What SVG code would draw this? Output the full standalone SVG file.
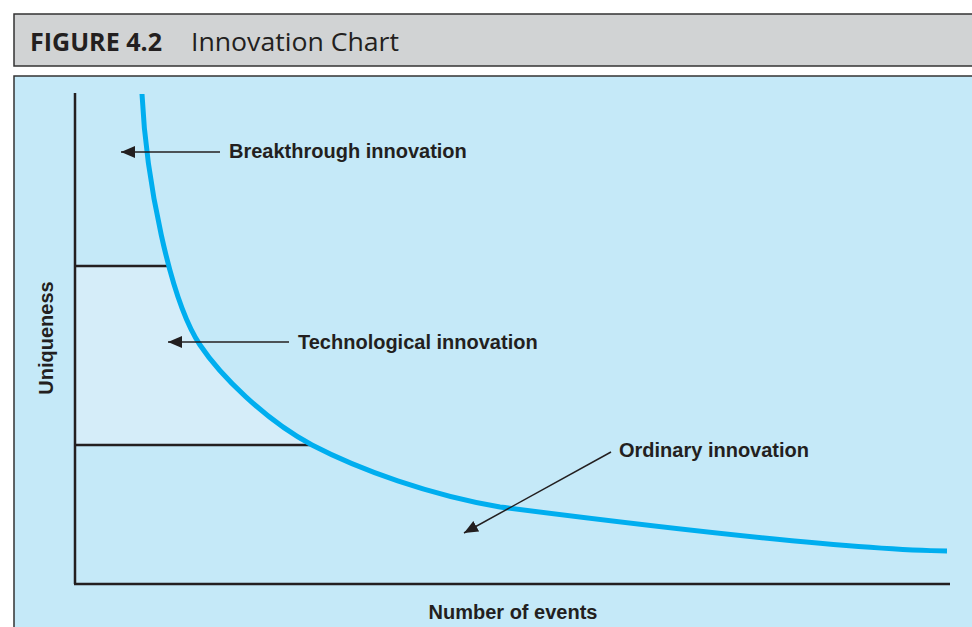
<svg xmlns="http://www.w3.org/2000/svg" width="972" height="627" viewBox="0 0 972 627">
<style>
.lbl{font-family:"Liberation Sans",Arial,sans-serif;font-weight:bold;font-size:20px;fill:#231f20}
.ttl{font-family:"Open Sans","Liberation Sans",sans-serif;font-size:25px;fill:#231f20}
.ax{stroke:#231f20;stroke-width:2.5;fill:none}
.conn{stroke:#231f20;stroke-width:1.5;fill:none}
</style>
<defs>
<marker id="ah" markerUnits="userSpaceOnUse" markerWidth="14" markerHeight="12" refX="14" refY="6" orient="auto">
<path d="M0,0 L14,6 L0,12 Z" fill="#231f20"/>
</marker>
<clipPath id="under">
<path d="M142,94 C146,180 170,300 200,345 C220,375 265,420 312,445 C360,470 430,495 500,507 C640,525 850,550 947,551 L947,600 L75,600 L75,94 Z"/>
</clipPath>
</defs>
<rect width="972" height="627" fill="#ffffff"/>
<g id="header">
<rect x="14" y="14" width="972" height="52" fill="#d1d3d4" stroke="#333" stroke-width="1.5"/>
<text class="ttl" x="30" y="51" textLength="132" lengthAdjust="spacingAndGlyphs" font-weight="bold">FIGURE 4.2</text>
<text class="ttl" x="191" y="51" textLength="208" lengthAdjust="spacingAndGlyphs">Innovation Chart</text>
</g>
<g id="panel">
<rect x="14" y="76" width="972" height="570" fill="#c5e9f8" stroke="#333" stroke-width="1.5"/>
</g>
<g id="tech-region">
<rect x="75" y="266" width="300" height="179" fill="#d5edf9" clip-path="url(#under)"/>
<line class="ax" x1="75" y1="266" x2="167" y2="266"/>
<line class="ax" x1="75" y1="445" x2="313" y2="445"/>
</g>
<g id="axes">
<line class="ax" x1="75" y1="93" x2="75" y2="584"/>
<line class="ax" x1="74" y1="584" x2="950" y2="584"/>
<text class="lbl" x="513" y="619" text-anchor="middle">Number of events</text>
<text class="lbl" transform="translate(53,338) rotate(-90)" text-anchor="middle">Uniqueness</text>
</g>
<g id="curve">
<path d="M142,94 C146,180 170,300 200,345 C220,375 265,420 312,445 C360,470 430,495 500,507 C640,525 850,550 947,551" fill="none" stroke="#00aeef" stroke-width="5"/>
</g>
<g id="connectors">
<line class="conn" x1="220" y1="152" x2="121" y2="152" marker-end="url(#ah)"/>
<line class="conn" x1="289" y1="342" x2="168" y2="342" marker-end="url(#ah)"/>
<line class="conn" x1="611" y1="452" x2="464" y2="533" marker-end="url(#ah)"/>
</g>
<g id="breakthrough">
<text class="lbl" x="229" y="158">Breakthrough innovation</text>
</g>
<g id="technological">
<text class="lbl" x="298" y="349">Technological innovation</text>
</g>
<g id="ordinary">
<text class="lbl" x="619" y="457">Ordinary innovation</text>
</g>
</svg>
